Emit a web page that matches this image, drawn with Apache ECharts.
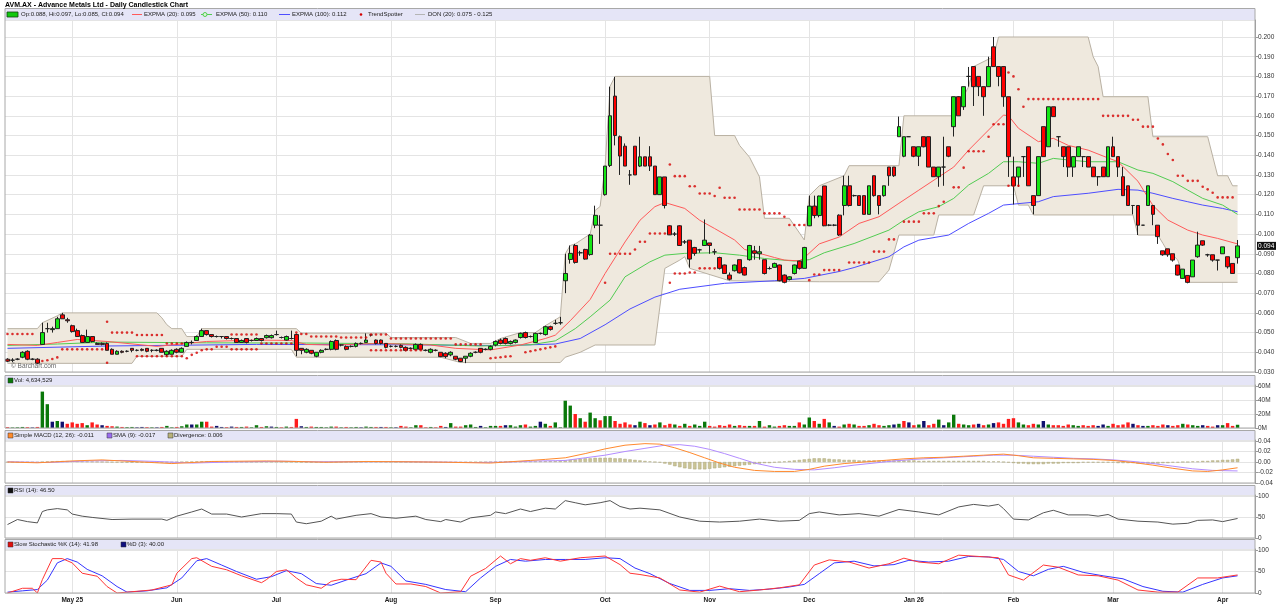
<!DOCTYPE html>
<html><head><meta charset="utf-8">
<script src="https://cdn.jsdelivr.net/npm/echarts@6.0.0/dist/echarts.min.js"></script>
<style>html,body{margin:0;padding:0;background:#fff}#c{width:1279px;height:615px}</style>
</head><body><div id="c"></div>
<script>
// ---------------- DATA ----------------
const titleText = 'AVM.AX - Advance Metals Ltd - Daily Candlestick Chart';
const monthLabels = ['May 25','Jun','Jul','Aug','Sep','Oct','Nov','Dec','Jan 26','Feb','Mar','Apr'];
const monthIdx = [13,34,54,77,98,120,141,161,182,202,222,244];
const blankSlots = 3;

// [open, close, low, high]
const ohlc = [
[.0365,.0355,.035,.037],[.036,.036,.035,.037],[.0365,.0365,.036,.037],[.0375,.040,.037,.0405],[.0405,.0365,.036,.041],
[.0365,.0365,.036,.037],[.0365,.0345,.034,.037],[.044,.050,.044,.055],[.052,.052,.050,.055],[.0515,.052,.050,.053],
[.052,.057,.052,.058],[.059,.057,.057,.060],[.0565,.056,.055,.0575],[.0535,.0505,.050,.054],[.051,.048,.048,.052],
[.0485,.045,.045,.049],[.045,.048,.045,.0515],[.048,.0455,.045,.048],[.0445,.044,.044,.045],[.0445,.044,.0435,.045],
[.0445,.041,.041,.045],[.0415,.039,.039,.042],[.039,.0405,.039,.041],[.0405,.040,.0395,.041],[.0405,.0405,.040,.041],
[.042,.041,.040,.042],[.041,.041,.0405,.0415],[.0415,.041,.0405,.042],[.042,.0405,.040,.042],[.041,.041,.040,.0415],
[.041,.041,.0405,.0415],[.042,.040,.040,.042],[.0388,.0405,.038,.041],[.039,.041,.039,.0415],[.0415,.040,.0395,.042],
[.040,.042,.040,.0425],[.043,.045,.043,.0455],[.045,.045,.044,.046],[.046,.048,.046,.0485],[.048,.051,.048,.052],
[.051,.049,.0485,.051],[.049,.048,.0475,.049],[.048,.048,.0475,.0485],[.048,.048,.047,.048],[.048,.047,.0465,.048],
[.047,.047,.0465,.0475],[.047,.045,.045,.047],[.045,.046,.045,.0465],[.047,.045,.0445,.047],[.046,.046,.0455,.0465],
[.046,.047,.046,.0475],[.047,.046,.0455,.047],
[.0474,.0485,.047,.049],[.0474,.0485,.047,.049],[.049,.049,.0485,.051],[.0475,.0475,.047,.048],[.0462,.048,.046,.0485],
[.047,.047,.0465,.051],[.049,.041,.038,.0495],[.042,.041,.039,.042],[.040,.0415,.0395,.042],[.041,.0395,.039,.041],
[.038,.040,.0375,.040],[.040,.041,.0395,.0415],[.0415,.0415,.041,.042],[.0415,.0455,.041,.046],[.046,.0415,.041,.0465],
[.0437,.0437,.043,.044],[.043,.0415,.041,.0435],[.043,.043,.0425,.0435],[.043,.0445,.0425,.045],[.0445,.0445,.044,.045],
[.045,.0462,.045,.0496],[.0488,.0488,.048,.049],[.0462,.0445,.044,.0465],[.0462,.0445,.044,.0465],[.0445,.0425,.042,.0445],
[.043,.043,.0425,.0435],[.043,.043,.0425,.0435],[.0435,.0425,.042,.044],[.0425,.041,.0405,.043],[.042,.042,.0415,.0425],
[.0415,.044,.041,.0445],[.044,.0415,.041,.0445],[.041,.041,.0405,.0415],[.040,.0415,.0395,.042],[.041,.041,.0405,.0415],
[.040,.0378,.0375,.040],[.0395,.0378,.037,.040],[.0387,.040,.038,.0405],[.038,.0365,.036,.038],[.037,.0353,.035,.037],
[.037,.038,.0345,.038],[.038,.0395,.0375,.040],[.040,.040,.0395,.0405],[.042,.040,.0395,.042],[.0415,.0415,.041,.042],
[.0415,.043,.041,.0435],[.0437,.0455,.043,.046],[.0462,.0445,.044,.047],[.047,.0445,.044,.0475],[.0445,.0455,.044,.046],
[.045,.0462,.0445,.0465],[.0475,.0496,.047,.050],[.050,.0475,.047,.0505],[.048,.048,.0475,.0485],[.045,.0496,.045,.050],
[.0496,.0496,.049,.050],[.049,.053,.0485,.0535],[.053,.0516,.051,.0535],[.0547,.0547,.054,.0565],[.055,.055,.054,.058],
[.0763,.080,.070,.090],[.0871,.0902,.085,.0942],[.0942,.0856,.085,.095],[.0905,.0905,.089,.0915],[.0922,.0873,.087,.0925],
[.0896,.0995,.089,.100],[.1045,.1095,.103,.1144],[.1045,.1045,.095,.1095],[.120,.1345,.1195,.1345],[.1348,.160,.134,.1748],
[.170,.150,.145,.1798],[.1494,.1396,.130,.150],[.1446,.1345,.1345,.146],[.130,.130,.125,.1325],[.1446,.130,.130,.1446],
[.1345,.1392,.134,.1494],[.1392,.1345,.1345,.1392],[.1392,.1345,.132,.1446],[.1345,.120,.120,.1345],[.120,.129,.120,.129],
[.129,.1145,.113,.129],[.1042,.0996,.0995,.1045],[.100,.100,.099,.101],[.1042,.0942,.094,.1045],[.096,.096,.095,.097],
[.0969,.0873,.083,.097],[.0932,.0902,.089,.0935],[.092,.092,.0905,.0925],[.0942,.0969,.094,.1074],[.0955,.0942,.090,.0955],
[.091,.091,.0895,.0925],[.0881,.0826,.082,.0885],[.0843,.080,.080,.0845],[.0792,.0771,.0765,.0805],[.0814,.0843,.081,.0845],
[.087,.0803,.080,.087],[.083,.0792,.079,.0835],[.087,.0942,.0865,.0945],[.0915,.0902,.087,.094],[.090,.091,.087,.094],
[.087,.080,.0795,.087],[.0825,.0825,.082,.0835],[.0831,.0851,.083,.0855],[.0843,.0763,.076,.0845],[.0792,.0755,.075,.0795],
[.077,.0783,.0765,.0785],[.080,.0843,.0795,.0845],[.0863,.0826,.082,.0865],[.0826,.0932,.0826,.0935],[.1042,.1142,.104,.1195],
[.1142,.1094,.108,.1195],[.1094,.1193,.1085,.1195],[.1244,.1042,.104,.1244],
[.1045,.1045,.104,.105],[.1045,.1045,.104,.105],[.1096,.0995,.099,.110],[.1145,.1245,.1095,.1296],[.1245,.1145,.114,.1296],
[.1195,.1195,.119,.120],[.1195,.1145,.1145,.1195],[.1195,.110,.110,.1195],[.110,.1245,.110,.1245],[.1296,.1195,.119,.1296],
[.1195,.1145,.110,.1195],[.1195,.1245,.119,.1245],[.134,.1296,.1245,.134],[.134,.1296,.129,.134],[.1494,.1545,.1494,.1596],
[.1395,.1494,.139,.1494],[.1494,.1494,.1494,.1494],[.1443,.1395,.139,.1443],[.1395,.1443,.1345,.1443],[.1494,.1443,.144,.1494],
[.1494,.134,.134,.1494],[.134,.1291,.1291,.134],[.1291,.134,.124,.134],[.134,.134,.1245,.1494],[.1443,.1395,.139,.1443],
[.1545,.1697,.1495,.1697],[.1697,.160,.160,.170],[.1646,.1748,.163,.1748],[.180,.180,.1748,.1848],[.185,.1748,.165,.185],
[.180,.1748,.170,.180],[.1748,.1697,.160,.1748],[.1748,.185,.1748,.190],[.195,.185,.185,.200],[.185,.180,.175,.185],
[.185,.1697,.1646,.185],[.1697,.1393,.129,.1697],[.129,.1245,.115,.1393],[.129,.134,.124,.134],[.1393,.1393,.129,.1393],
[.1443,.1245,.1245,.1443],[.1195,.1145,.110,.1195],[.1195,.1393,.1195,.1393],[.1545,.1393,.1393,.1545],[.1443,.1646,.1443,.1646],
[.1646,.1596,.1596,.1646],[.1494,.1494,.1443,.1494],[.1443,.1393,.134,.1443],[.1443,.134,.129,.1443],[.134,.1393,.129,.1393],
[.1393,.1443,.1393,.1443],[.1393,.1393,.134,.1393],[.1393,.134,.134,.1393],[.134,.1291,.1291,.134],[.1291,.1291,.1245,.1291],
[.134,.1291,.1291,.134],[.1291,.1443,.1291,.1443],[.1443,.1393,.1393,.1494],[.1393,.134,.129,.1393],[.1291,.1195,.1195,.134],
[.1245,.1145,.1145,.1245],[.1145,.1145,.110,.1145],[.1145,.1045,.0995,.1145],[.1045,.1045,.1045,.1045],[.1145,.1245,.1145,.1245],
[.1145,.110,.1045,.1145],[.1045,.0987,.095,.1045],[.0915,.0895,.089,.0915],[.0925,.0895,.0885,.0925],[.090,.0868,.086,.090],
[.0843,.0792,.079,.0843],[.0775,.0822,.0775,.0822],[.079,.0755,.075,.079],[.0783,.0868,.0783,.0868],[.0885,.0944,.088,.1012],
[.0966,.0944,.094,.0966],[.0895,.0895,.0885,.090],[.0895,.0868,.086,.0895],[.0868,.0868,.0815,.0868],[.090,.0935,.090,.0935],
[.0885,.0834,.0825,.0885],[.0851,.080,.080,.0851],[.088,.094,.085,.097]
];

// volume in millions of shares
const volumeM = [
1.2,0.8,1.0,1.5,1.2,0.8,1.5,52,34,9, 10,9,6,8,6,7,4,8,5,4, 3,2.5,2,1.5,1.2,1.5,1,1.5,1.2,1,
1,1.5,3,1,1.5,2.5,5,5,5,9, 9,2,3,1.5,1.2,2,1.5,1.5,2,1, 4,1.5,2.5,2,1.5,1,2,1.5,13,2.5,
1.5,2,1.5,1.5,1,2,2,1,1.5,1, 1.5,1,2,1.5,1.5,1.5,1.5,1,1,3, 2,1,4,4,1,1.5,1,3,1.5,7,
2,2,4,5,1.5,3,1,3,3,3, 4,4,2,4,5,2,3,9,6,3, 8,1,39,32,20,14,9,22,14,11,
17,17,10,6,8,5,4,9,7,4, 5,8,4,6,5,3,6,3,5,3, 9,3,2,4,3,5,3,4,3,3,
3,10,2,4,2,3,4,3,3,8, 5,15,10,6,13,8,3,2,5,6, 5,3,3,4,6,4,3,4,5,6,
10,8,4,5,10,4,6,12,4,8, 19,6,5,4,5,6,4,5,7,8, 6,13,14,8,5,4,6,5,10,5,
4,4,3,5,4,3,4,3,4,3, 5,3,6,4,5,8,6,4,3,3, 4,3,5,4,3,4,6,5,4,3,
4,3,2,4,4,7,3,4.63
];

const ema20 = [[0,.0440],[6,.0435],[10,.0450],[14,.0465],[20,.0455],[30,.0430],[40,.0455],[50,.0462],[57,.0460],[60,.0440],[65,.0437],[75,.0445],[85,.0437],[90,.0420],[97,.0412],[103,.0437],[108,.0470],[110,.0487],[113,.0560],[117,.0668],[120,.0800],[124,.0960],[127,.1070],[130,.1139],[132,.1160],[136,.1130],[139,.1070],[142,.1028],[146,.0970],[148,.0922],[151,.0902],[154,.0881],[156,.0868],[159,.0864],[160,.0880],[163,.0950],[167,.0985],[171,.1054],[175,.1088],[179,.1156],[183,.1223],[187,.1290],[190,.1340],[193,.1426],[197,.1528],[200,.1604],[201,.1600],[203,.1537],[207,.1469],[210,.1486],[213,.1450],[217,.1426],[220,.1396],[223,.1367],[227,.1268],[230,.1145],[233,.1071],[237,.1020],[240,.0995],[243,.0978],[247,.0950]];
const ema50 = [[0,.0435],[10,.0442],[20,.0452],[40,.0448],[60,.0447],[80,.0443],[95,.0432],[105,.0438],[110,.0458],[114,.0520],[117,.0580],[121,.0665],[124,.0783],[129,.0859],[132,.0893],[136,.0902],[142,.0905],[147,.0893],[152,.0876],[158,.0863],[161,.0870],[164,.0905],[170,.0952],[177,.1020],[180,.1070],[183,.1113],[187,.1139],[190,.1181],[193,.1249],[197,.1308],[200,.1367],[203,.1367],[207,.1359],[210,.1384],[213,.1376],[217,.1367],[223,.1367],[227,.1325],[230,.1308],[234,.1266],[237,.1223],[240,.1181],[244,.1147],[247,.1100]];
const ema100 = [[0,.0420],[20,.0432],[50,.0440],[80,.0438],[100,.0434],[110,.0442],[115,.0470],[120,.0540],[125,.0620],[130,.0680],[135,.0720],[144,.0750],[154,.0763],[160,.0775],[163,.0790],[167,.0810],[170,.0830],[177,.0885],[180,.0935],[183,.0969],[189,.0995],[193,.1054],[197,.1105],[200,.1147],[202,.1152],[207,.1164],[210,.1190],[217,.1207],[223,.1227],[227,.1223],[230,.1207],[234,.1181],[237,.1164],[240,.1147],[244,.1130],[247,.1113]];

const donUpper = [[0,.052],[6,.052],[7,.055],[10,.0585],[11,.060],[30,.060],[31,.0575],[32,.054],[33,.052],[35,.052],[36,.048],[38,.048],[39,.052],[58,.052],[59,.0497],[76,.0497],[77,.0475],[90,.0475],[93,.0445],[97,.0445],[99,.047],[103,.050],[106,.050],[108,.0535],[110,.0565],[111,.058],[112,.090],[113,.0942],[114,.095],[117,.100],[118,.112],[119,.114],[120,.1345],[121,.175],[122,.180],[141,.180],[142,.150],[146,.150],[147,.145],[149,.139],[151,.129],[152,.108],[157,.108],[160,.097],[161,.1195],[163,.1245],[168,.1296],[169,.1347],[179,.1347],[180,.160],[190,.160],[191,.1697],[192,.170],[193,.1748],[194,.185],[198,.190],[199,.200],[217,.200],[218,.190],[219,.185],[220,.1697],[229,.1697],[230,.1494],[241,.1494],[243,.1296],[245,.1296],[246,.1245],[247,.1245]];
const donLower = [[0,.0344],[25,.0344],[26,.038],[35,.038],[36,.0415],[57,.0415],[58,.0375],[87,.0375],[91,.0348],[111,.0348],[112,.0375],[115,.040],[118,.0437],[130,.0437],[132,.0826],[135,.0868],[136,.0885],[137,.0826],[145,.0763],[163,.0758],[175,.0758],[177,.0817],[179,.0995],[186,.0995],[187,.1097],[194,.1097],[196,.1245],[202,.1245],[203,.1147],[205,.1147],[206,.1097],[226,.1097],[227,.0995],[231,.0995],[232,.0953],[233,.091],[234,.0893],[235,.0868],[236,.0792],[237,.0755],[247,.0755]];

const trendDots = [
[0,.0493],[1,.0493],[2,.0493],[3,.0493],[4,.0493],[5,.0493],[7,.0356],[8,.0360],[9,.0366],[10,.0374],
[11,.0415],[12,.0415],[13,.0415],[14,.0415],[15,.0415],[16,.0415],[17,.0415],[18,.0415],[19,.0415],[20,.0555],[20,.0347],
[21,.0500],[22,.0500],[23,.0500],[24,.0500],[25,.0500],[26,.0488],[27,.0488],[28,.0488],[29,.0488],[30,.0488],[31,.0488],
[26,.0380],[27,.0380],[28,.0380],[29,.0380],[30,.0380],[31,.0380],[32,.0380],[33,.0380],[34,.0380],[35,.0380],
[32,.0445],[33,.0445],[34,.0445],[35,.0445],[36,.0370],[37,.0387],[38,.0398],[39,.0410],[40,.0415],[41,.0415],[42,.0428],[43,.0428],[44,.0428],
[45,.0490],[46,.0490],[47,.0490],[48,.0490],[49,.0490],[50,.0490],[45,.0415],[46,.0415],[47,.0415],[48,.0415],[49,.0415],[50,.0415],
[51,.0445],[52,.0445],[53,.0445],[54,.0445],[55,.0445],[56,.0445],[57,.0445],[58,.0500],[59,.0493],[60,.0493],
[61,.0480],[62,.0480],[63,.0480],[64,.0480],[65,.0480],[66,.0480],[67,.0475],[68,.0475],[69,.0475],[70,.0475],[71,.0475],[72,.0475],
[73,.0490],[74,.0490],[75,.0490],[76,.0490],
[73,.0410],[74,.0410],[75,.0410],[76,.0410],[77,.0410],[78,.0410],[79,.0410],[80,.0410],[81,.0410],[82,.0410],[83,.0410],
[77,.0470],[78,.0470],[79,.0470],[80,.0470],[81,.0470],[82,.0470],[83,.0470],[84,.0470],[85,.0470],[86,.0470],[87,.0470],[88,.0470],[89,.0470],
[90,.0440],[91,.0440],[92,.0440],[93,.0440],[94,.0440],[95,.0440],
[97,.0370],[98,.0372],[99,.0375],[100,.0378],[101,.0380],[104,.0400],[105,.0405],[106,.0410],[107,.0415],[108,.0420],[109,.0425],[110,.0430],
[120,.0753],[121,.0900],[122,.0900],[123,.0900],[124,.0900],[125,.0900],[126,.0922],[127,.0961],[128,.0961],[129,.1003],[130,.1003],[131,.1003],[132,.1003],
[133,.1353],[134,.1294],[135,.1294],[136,.1294],[137,.1243],[138,.1243],[139,.1206],[140,.1206],[141,.1206],[142,.1193],[143,.1235],[144,.1184],[145,.1184],[146,.1184],
[147,.1125],[148,.1125],[149,.1125],[150,.1125],[151,.1125],[152,.1105],[153,.1105],[154,.1105],[155,.1105],[156,.1088],[157,.1046],[158,.1046],[159,.1046],[160,.1046],
[133,.0753],[134,.0800],[135,.0800],[136,.0800],[137,.0805],[138,.0805],[139,.0826],[140,.0826],[141,.0826],[142,.0826],
[161,.0766],[162,.0795],[163,.0795],[164,.0817],[165,.0817],[166,.0817],[167,.0817],[169,.0856],[170,.0856],[171,.0856],[172,.0856],[173,.0856],
[174,.0911],[175,.0911],[176,.0911],[177,.0973],[178,.0973],[180,.1063],[181,.1063],[182,.1063],[183,.1063],[184,.1105],[185,.1105],[186,.1105],
[187,.1142],[188,.1164],[190,.1237],[191,.1237],[192,.1337],[193,.1420],[194,.1420],[195,.1420],[196,.1420],[197,.1494],[198,.1557],[199,.1557],[200,.1557],
[201,.1820],[202,.1800],[203,.1735],[204,.1646],[205,.1685],[206,.1685],[207,.1685],[208,.1685],[209,.1685],[210,.1685],[211,.1685],[212,.1685],
[213,.1685],[214,.1685],[215,.1685],[216,.1685],[217,.1685],[218,.1685],[219,.1685],[220,.1600],[221,.1600],[222,.1600],[223,.1600],[224,.1600],[225,.1600],
[226,.1580],[227,.1580],[228,.1545],[229,.1545],[230,.1545],[231,.1485],[232,.1455],[233,.1406],[234,.1376],[235,.1296],[236,.1296],
[237,.1270],[238,.1270],[239,.1270],[240,.1240],[241,.1227],[242,.1210],[243,.1186],[244,.1186],[245,.1186],[246,.1186],
[201,.1245],[202,.1245],[203,.1245]
];

const macdLine = [[0,0],[6,-.0015],[13,.002],[19,.004],[27,0],[33,-.003],[41,.001],[52,.002],[58,.001],[64,-.0005],[72,.001],[80,.0005],[88,-.0005],[97,-.002],[105,.003],[108,.005],[112,.008],[116,.016],[120,.025],[124,.032],[128,.035],[131,.034],[134,.027],[137,.018],[140,.008],[143,-.002],[146,-.010],[150,-.016],[154,-.018],[158,-.018],[161,-.014],[164,-.008],[168,-.003],[172,.000],[176,.003],[180,.006],[184,.008],[188,.009],[192,.011],[196,.013],[200,.015],[203,.012],[206,.008],[210,.007],[214,.006],[218,.005],[222,.003],[226,-.001],[230,-.006],[234,-.012],[238,-.017],[241,-.018],[244,-.015],[247,-.011]];
const macdSignal = [[0,.0005],[8,-.001],[16,.002],[23,.003],[30,.001],[37,-.002],[45,0],[55,.0015],[62,.0005],[70,.0005],[78,.0007],[86,0],[94,-.001],[101,0],[106,.002],[110,.0025],[112,.003],[116,.008],[120,.013],[124,.020],[128,.026],[132,.032],[135,.033],[138,.030],[141,.024],[144,.016],[147,.007],[150,-.002],[154,-.010],[158,-.014],[162,-.015],[166,-.011],[170,-.006],[174,-.002],[178,.002],[182,.005],[186,.007],[190,.009],[194,.011],[198,.013],[202,.013],[206,.011],[210,.009],[214,.007],[218,.006],[222,.004],[226,.001],[230,-.003],[234,-.008],[238,-.013],[242,-.016],[247,-.017]];
// divergence in thousandths
const macdHistMilli = [
-0.5,-0.5,-0.6,-0.6,-0.5,-0.6,-0.8,
0.2,1.0,1.4,1.6,1.8,1.7,1.5,1.2,1.0,0.8,0.5,0.3,0.1,-0.2,
-0.5,-0.8,-1.0,-1.1,-1.2,-1.2,-1.1,-1.0,-1.0,-0.9,-0.8,-0.7,-0.5,-0.3,
0,0.3,0.6,0.9,1.2,1.3,1.2,1.1,1.0,0.9,0.8,0.6,0.5,0.4,0.3,0.3,
0.3,0.4,0.4,0.4,0.3,0.2,0.2,
-0.3,-0.6,-0.8,-0.9,-0.9,-0.8,-0.6,-0.4,-0.3,-0.2,-0.1,0,0,
0.1,0.3,0.4,0.4,0.3,0.2,0.1,0,-0.1,-0.2,
-0.3,-0.3,-0.3,-0.4,-0.4,-0.5,-0.6,-0.6,-0.7,-0.7,-0.8,-0.7,-0.5,-0.3,-0.1,0,
0.2,0.4,0.5,0.6,0.7,0.8,0.9,1.0,1.1,1.2,1.3,1.4,1.6,1.8,
2,3,4,5,6,7,7,8,8,8,8,7,7,6,5,
4,3,2,1,0,-1,-3,-5,-8,-10,
-12,-13,-14,-14,-14,-13,-12,-11,-10,-9,-8,-7,-6,-5,-4,
-3,-2,-2,-1,0,1,2,3,4,5,6,7,7,7,6,
5,5,4,4,4,3,3,3,3,3,3,3,3,3,3,3,3,2,2,2,2,2,2,2,2,2,2,2,2,2,2,1,1,1,0,
-1,-2,-3,-3,-4,-4,-4,-4,-3,-3,-3,-2,-2,-2,-2,
-1,-1,-1,-1,-1,-1,-1,-2,-2,-2,-2,-3,-3,-3,-3,
-3,-2,-2,-1,-1,0,0,1,1,2,2,3,3,4,4,5,6
];

const rsi14 = [[0,32],[2,44],[4,39],[6,36],[7,63],[8,67],[10,70],[12,67],[13,57],[15,52],[17,49],[21,44],[25,45],[31,45],[32,42],[34,52],[37,62],[39,69],[41,57],[44,57],[47,50],[51,58],[54,58],[57,57],[58,38],[60,34],[63,40],[65,52],[66,45],[70,54],[73,58],[75,50],[78,47],[82,52],[84,44],[87,39],[88,44],[91,38],[93,48],[97,54],[98,62],[100,58],[103,69],[105,63],[108,71],[110,69],[112,89],[114,84],[116,79],[119,84],[121,89],[123,75],[125,69],[127,71],[131,67],[135,50],[139,40],[143,38],[147,40],[151,45],[155,40],[159,42],[161,58],[163,62],[167,55],[171,58],[175,52],[179,68],[183,62],[187,55],[191,74],[194,80],[197,76],[199,80],[200,70],[202,45],[205,43],[208,60],[210,66],[213,55],[217,55],[219,52],[221,56],[223,45],[227,40],[231,38],[234,33],[237,35],[239,42],[242,43],[244,39],[247,46.5]];
const stochK = [[0,0],[3,11],[5,11],[6,0],[7,31],[9,80],[11,80],[13,70],[15,46],[18,39],[20,15],[22,0],[25,3],[29,7],[33,19],[34,46],[37,80],[38,82],[41,62],[44,54],[47,40],[51,24],[52,31],[54,50],[56,54],[58,35],[60,19],[63,11],[65,27],[67,32],[70,31],[73,76],[75,72],[76,46],[78,21],[81,21],[84,15],[87,0],[91,3],[93,39],[96,57],[99,86],[101,68],[103,80],[105,76],[108,82],[111,74],[115,82],[120,86],[123,66],[125,46],[127,43],[131,35],[135,7],[139,2],[143,16],[147,3],[151,7],[155,12],[159,19],[162,65],[165,77],[169,72],[173,58],[177,68],[180,81],[183,72],[187,68],[191,88],[195,85],[199,82],[201,42],[204,30],[208,65],[211,60],[215,42],[219,40],[223,30],[227,7],[231,2],[235,2],[239,35],[243,35],[247,41.98]];
const stochD = [[0,2],[3,5],[6,8],[8,30],[10,70],[12,80],[14,72],[16,55],[19,40],[22,15],[24,2],[28,5],[32,12],[35,35],[38,75],[40,80],[43,65],[46,50],[50,32],[53,38],[56,52],[59,45],[62,22],[65,18],[68,30],[72,45],[75,70],[77,62],[80,28],[84,20],[88,8],[92,3],[95,35],[98,62],[101,78],[104,74],[108,78],[112,78],[116,78],[120,82],[123,80],[126,58],[129,45],[133,22],[137,6],[141,6],[145,10],[149,6],[153,9],[157,14],[160,20],[163,45],[166,70],[170,74],[174,63],[178,66],[181,76],[185,72],[189,74],[193,85],[197,84],[200,78],[203,50],[206,40],[209,55],[212,62],[216,48],[220,40],[224,33],[228,15],[232,4],[236,2],[240,20],[244,35],[247,40]];

const legendMain = ['Op:0.088, Hi:0.097, Lo:0.085, Cl:0.094','EXPMA (20): 0.095','EXPMA (50): 0.110','EXPMA (100): 0.112','TrendSpotter','DON (20): 0.075 - 0.125'];
const legendVol = 'Vol: 4,634,529';
const legendMacd = ['Simple MACD (12, 26): -0.011','SMA (9): -0.017','Divergence: 0.006'];
const legendRsi = 'RSI (14): 46.50';
const legendStoch = ['Slow Stochastic %K (14): 41.98','%D (3): 40.00'];

// ---------------- CHART ----------------
const FONT = '"Liberation Sans", Arial, sans-serif';
const C = {up:'#14e614', down:'#ff0000', edge:'#222', ema20:'#ff5a5a', ema50:'#52cc52', ema100:'#4d4dff',
  band:'#efe9de', bandEdge:'#b9b1a3', dot:'#d40000', vUp:'#0a780a', vDown:'#ff1c1c', vFlat:'#10106e',
  macd:'#ff8a2e', sig:'#b38cff', hist:'#cbc596', rsi:'#555', k:'#ff3535', d:'#3535ff', strip:'#e5e5f7', frame:'#a8a8a8', grid:'#e4e4e4'};

const cats = [];
for (let i = 0; i < ohlc.length + blankSlots; i++) cats.push(String(i));

const panels = [
  {stripTop:9, top:20, bottom:372},
  {stripTop:376, top:385, bottom:428},
  {stripTop:431, top:440, bottom:483},
  {stripTop:486, top:495, bottom:538},
  {stripTop:540, top:549, bottom:593}
];
const isMonth = (i) => monthIdx.indexOf(i) >= 0;

const grids = panels.map(p => ({left:5, right:24, top:p.top, height:p.bottom - p.top, show:false}));
const xAxes = panels.map((p, k) => ({
  type:'category', gridIndex:k, data:cats, boundaryGap:true,
  axisLine:{show:false}, axisTick:{show:false},
  axisLabel:{show:k === 4, interval:(i) => isMonth(i), formatter:(v) => monthLabels[monthIdx.indexOf(Number(v))] || '',
    fontSize:6.5, fontWeight:'bold', color:'#222', fontFamily:FONT, margin:4},
  splitLine:{show:true, interval:(i) => isMonth(i), alignWithLabel:true, lineStyle:{color:C.grid, width:1}}
}));
function yAx(k, min, max, interval, fmt) {
  return {type:'value', gridIndex:k, position:'right', min, max, interval, scale:false,
    axisLine:{show:true, lineStyle:{color:'#9a9a9a'}}, axisTick:{show:true, length:3, lineStyle:{color:'#9a9a9a'}},
    axisLabel:{fontSize:6.5, color:'#333', fontFamily:FONT, margin:3, showMaxLabel:false, formatter:fmt},
    splitLine:{show:true, lineStyle:{color:C.grid, width:1.2}}};
}
const yAxes = [
  yAx(0, 0.03, 0.2 + 17/1970, 0.01, v => v.toFixed(3)),
  yAx(1, 0, 60*43/42, 20, v => Math.round(v) + 'M'),
  yAx(2, -0.04, 0.04 + 1/525, 0.02, v => v.toFixed(2)),
  yAx(3, 0, 100 + 1/0.42, 50, v => String(Math.round(v))),
  yAx(4, 0, 100 + 1/0.43, 50, v => String(Math.round(v)))
];

const volColors = ohlc.map((d, i) => {
  if (i === 0) return d[1] >= d[0] ? C.vUp : C.vDown;
  const pc = ohlc[i-1][1];
  return d[1] > pc ? C.vUp : (d[1] < pc ? C.vDown : C.vFlat);
});
const lastClose = ohlc[ohlc.length-1][1];

const lineS = (data, color, xi, yi, z, w) => ({type:'line', data, xAxisIndex:xi, yAxisIndex:yi, showSymbol:false, symbol:'none',
  smooth:false, lineStyle:{color, width:w || 1}, z:z || 3, silent:true, animation:false});

const series = [
  {type:'custom', xAxisIndex:0, yAxisIndex:0, z:1, silent:true, clip:true, data:[[0, 0.05]],
    renderItem:(params, api) => {
      const pts = donUpper.map(p => api.coord(p)).concat(donLower.slice().reverse().map(p => api.coord(p)));
      return {type:'polygon', shape:{points:pts}, style:{fill:C.band, stroke:null}};
    }},
  lineS(donUpper, C.bandEdge, 0, 0, 2),
  lineS(donLower, C.bandEdge, 0, 0, 2),
  lineS(ema100, C.ema100, 0, 0, 3),
  lineS(ema50, C.ema50, 0, 0, 3),
  lineS(ema20, C.ema20, 0, 0, 3),
  {type:'candlestick', data:ohlc, xAxisIndex:0, yAxisIndex:0, barWidth:4.3, z:5, silent:true,
    itemStyle:{color:C.up, color0:C.down, borderColor:C.edge, borderColor0:C.edge, borderWidth:1}},
  {type:'scatter', data:trendDots, xAxisIndex:0, yAxisIndex:0, symbol:'circle', symbolSize:2.6, z:6, silent:true,
    itemStyle:{color:C.dot}},
  {type:'bar', data:volumeM.map((v, i) => ({value:v, itemStyle:{color:volColors[i]}})), xAxisIndex:1, yAxisIndex:1, barWidth:3.4, silent:true},
  {type:'bar', data:macdHistMilli.map(v => v/1000), xAxisIndex:2, yAxisIndex:2, barWidth:3.4, silent:true,
    itemStyle:{color:C.hist, borderColor:'#aaa47a', borderWidth:0.5}},
  lineS(macdSignal, C.sig, 2, 2, 4),
  lineS(macdLine, C.macd, 2, 2, 5),
  lineS(rsi14, C.rsi, 3, 3, 4),
  lineS(stochD, C.d, 4, 4, 4),
  lineS(stochK, C.k, 4, 4, 5)
];

// legend strips & frames
const g = [];
const txt = (x, y, s, extra) => Object.assign({type:'text', x, y, z:120, style:Object.assign({text:s, fill:'#222', font:'6px ' + FONT, textVerticalAlign:'middle'}, extra || {})});
const sq = (x, y, color) => ({type:'rect', z:120, shape:{x, y:y-2.5, width:5, height:5}, style:{fill:color, stroke:'#333', lineWidth:0.5}});
g.push({type:'text', x:5, y:5, z:120, style:{text:titleText, fill:'#000', font:'bold 7px ' + FONT, textVerticalAlign:'middle'}});
panels.forEach((p, k) => {
  const h = k === 0 ? 11 : 9;
  g.push({type:'rect', z:110, shape:{x:5, y:p.stripTop, width:1250, height:h}, style:{fill:C.strip}});
  g.push({type:'rect', z:115, shape:{x:5, y:p.stripTop - 0.5, width:1250, height:p.bottom - p.stripTop + 0.5}, style:{fill:'none', stroke:C.frame, lineWidth:1}});
});
let ym = 14.5;
g.push({type:'rect', z:120, shape:{x:7, y:ym-2.5, width:11, height:5}, style:{fill:'#10c810', stroke:'#114411', lineWidth:0.8}});
g.push(txt(21, ym, legendMain[0]));
g.push({type:'line', z:120, shape:{x1:132, y1:ym, x2:142, y2:ym}, style:{stroke:C.ema20, lineWidth:1}});
g.push(txt(144, ym, legendMain[1]));
g.push({type:'line', z:120, shape:{x1:201, y1:ym, x2:212, y2:ym}, style:{stroke:C.ema50, lineWidth:1}});
g.push({type:'circle', z:121, shape:{cx:205, cy:ym, r:2}, style:{fill:'#d8f5d8', stroke:C.ema50, lineWidth:1}});
g.push(txt(216, ym, legendMain[2]));
g.push({type:'line', z:120, shape:{x1:279, y1:ym, x2:290, y2:ym}, style:{stroke:C.ema100, lineWidth:1}});
g.push(txt(292, ym, legendMain[3]));
g.push({type:'circle', z:120, shape:{cx:361, cy:ym, r:1.3}, style:{fill:C.dot}});
g.push(txt(368, ym, legendMain[4]));
g.push({type:'line', z:120, shape:{x1:415, y1:ym, x2:425, y2:ym}, style:{stroke:'#b5b5b5', lineWidth:1}});
g.push(txt(428, ym, legendMain[5]));
g.push(sq(8, 380.5, C.vUp)); g.push(txt(14, 380.5, legendVol));
g.push(sq(8, 435.5, C.macd)); g.push(txt(14, 435.5, legendMacd[0]));
g.push(sq(107, 435.5, '#9a6cf0')); g.push(txt(113, 435.5, legendMacd[1]));
g.push(sq(168, 435.5, '#b9b27a')); g.push(txt(174, 435.5, legendMacd[2]));
g.push(sq(8, 490.5, '#111')); g.push(txt(14, 490.5, legendRsi));
g.push(sq(8, 544.5, '#e01010')); g.push(txt(14, 544.5, legendStoch[0]));
g.push(sq(121, 544.5, '#101080')); g.push(txt(127, 544.5, legendStoch[1]));
g.push({type:'text', x:11, y:366, z:120, style:{text:'\u00A9 Barchart.com', fill:'#666', font:'6.5px ' + FONT, textVerticalAlign:'middle'}});

const chart = echarts.init(document.getElementById('c'), null, {renderer:'canvas', width:1279, height:615});
chart.setOption({
  animation:false, backgroundColor:'#ffffff',
  textStyle:{fontFamily:FONT},
  grid:grids, xAxis:xAxes, yAxis:yAxes, series, graphic:g
});
// last-price tag on the price axis, placed from the data value
const tagY = chart.convertToPixel({yAxisIndex:0}, lastClose);
g.push({type:'rect', z:130, shape:{x:1257, y:tagY - 4, width:19, height:8}, style:{fill:'#111'}});
g.push({type:'text', x:1258, y:tagY, z:131, style:{text:lastClose.toFixed(3), fill:'#fff', font:'6.5px ' + FONT, textVerticalAlign:'middle'}});
chart.setOption({graphic:g});
</script></body></html>
